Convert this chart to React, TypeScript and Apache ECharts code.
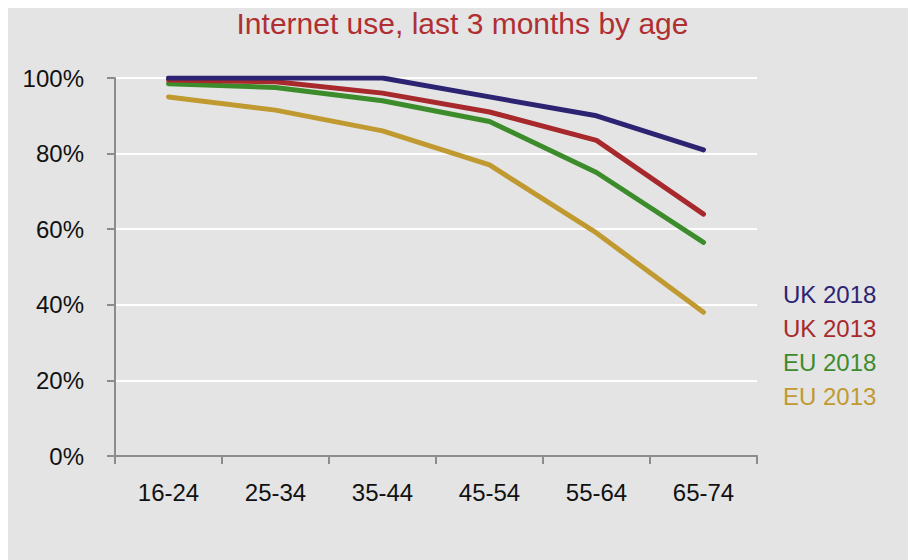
import React, { useEffect, useRef } from "react";
import * as echarts from "echarts";

const ageGroups = ["16-24", "25-34", "35-44", "45-54", "55-64", "65-74"];
const uk2018 = [100, 100, 100, 95, 90, 81];
const uk2013 = [99.5, 99, 96, 91, 83.5, 64];
const eu2018 = [98.5, 97.5, 94, 88.5, 75, 56.5];
const eu2013 = [95, 91.5, 86, 77, 59, 38];
const seriesNames = ["UK 2018", "UK 2013", "EU 2018", "EU 2013"];
const seriesColors = ["#2c2373", "#a8292c", "#3d8c2b", "#c09a30"];
const seriesData = [uk2018, uk2013, eu2018, eu2013];

const font = "'Liberation Sans', Arial, sans-serif";

export default function App() {
  const ref = useRef<HTMLDivElement>(null);
  useEffect(() => {
    if (!ref.current) return;
    const chart = echarts.init(ref.current, null, { renderer: "svg" });
    chart.setOption({
      animation: false,
      backgroundColor: "#e4e4e4",
      title: {
        text: "Internet use, last 3 months by age",
        left: "center",
        top: -5,
        textStyle: { color: "#b02f33", fontSize: 30, fontWeight: "normal", fontFamily: font },
      },
      legend: {
        orient: "vertical",
        left: 765,
        top: 269,
        icon: "none",
        itemWidth: 0,
        itemGap: 10,
        selectedMode: false,
        data: seriesNames.map((n, i) => ({ name: n, textStyle: { color: seriesColors[i] } })),
        textStyle: { fontSize: 24, fontFamily: font },
      },
      grid: { left: 107, right: 160, top: 70, bottom: 105 },
      xAxis: {
        type: "category",
        data: ageGroups,
        boundaryGap: true,
        axisLine: { lineStyle: { color: "#8c8c8c", width: 2 } },
        axisTick: { show: true, length: 8, lineStyle: { color: "#8c8c8c", width: 2 } },
        axisLabel: { color: "#111", fontSize: 24, fontFamily: font, margin: 24 },
      },
      yAxis: {
        type: "value",
        min: 0,
        max: 100,
        interval: 20,
        axisLine: { show: true, lineStyle: { color: "#8c8c8c", width: 2 } },
        axisTick: { show: true, length: 8, lineStyle: { color: "#8c8c8c", width: 2 } },
        axisLabel: {
          formatter: "{value}%",
          color: "#111",
          fontSize: 24,
          fontFamily: font,
          margin: 31,
        },
        splitLine: { lineStyle: { color: "#ffffff", width: 2 } },
      },
      series: seriesNames.map((n, i) => ({
        name: n,
        type: "line",
        data: seriesData[i],
        symbol: "none",
        z: 10 - i,
        lineStyle: { color: seriesColors[i], width: 5, cap: "round", join: "round" },
        itemStyle: { color: seriesColors[i] },
      })),
    });
    return () => chart.dispose();
  }, []);
  return <div ref={ref} style={{ width: 909, height: 553 }} />;
}
